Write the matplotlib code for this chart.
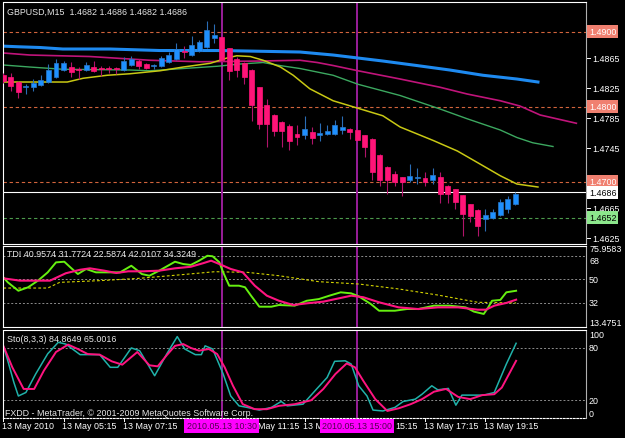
import matplotlib
matplotlib.use('Agg')
import matplotlib.pyplot as plt
from matplotlib import transforms
import numpy as np

plt.rcParams['font.family'] = ['Liberation Sans', 'DejaVu Sans']

# ---------------- data ----------------
symbol_title = "GBPUSD,M15  1.4682 1.4686 1.4682 1.4686"
tdi_title = "TDI 40.9574 31.7724 22.5874 42.0107 34.3249"
sto_title = "Sto(8,3,3) 84.8649 65.0016"
copyright_text = "FXDD - MetaTrader, \u00a9 2001-2009 MetaQuotes Software Corp."

opens = [1.4842, 1.4840, 1.4833, 1.4827, 1.4826, 1.4829, 1.4833, 1.4840, 1.4849, 1.4853,
         1.4850, 1.4849, 1.4853, 1.4852, 1.4852, 1.4851, 1.4849, 1.4856, 1.4861, 1.4857,
         1.4854, 1.4854, 1.4860, 1.4864, 1.4874, 1.4869, 1.4874, 1.4880, 1.4892, 1.4893,
         1.4878, 1.4864, 1.4858, 1.4849, 1.4826, 1.4802, 1.4789, 1.4780, 1.4775, 1.4764,
         1.4762, 1.4767, 1.4762, 1.4764, 1.4764, 1.4769, 1.4771, 1.4769, 1.4762, 1.4757,
         1.4736, 1.4720, 1.4711, 1.4706, 1.4703, 1.4705, 1.4705, 1.4703, 1.4707, 1.4695,
         1.4690, 1.4682, 1.4670, 1.4663, 1.4650, 1.4652, 1.4656, 1.4664, 1.4670]
highs = [1.4845, 1.4845, 1.4834, 1.4830, 1.4837, 1.4842, 1.4857, 1.4864, 1.4861, 1.4860,
         1.4853, 1.4860, 1.4861, 1.4854, 1.4854, 1.4853, 1.4866, 1.4868, 1.4864, 1.4858,
         1.4857, 1.4868, 1.4873, 1.4885, 1.4881, 1.4894, 1.4889, 1.4914, 1.4910, 1.4894,
         1.4879, 1.4866, 1.4860, 1.4850, 1.4827, 1.4810, 1.4790, 1.4781, 1.4777, 1.4776,
         1.4788, 1.4773, 1.4778, 1.4776, 1.4782, 1.4788, 1.4772, 1.4770, 1.4763, 1.4758,
         1.4737, 1.4721, 1.4715, 1.4707, 1.4724, 1.4718, 1.4713, 1.4718, 1.4713, 1.4696,
         1.4691, 1.4683, 1.4671, 1.4664, 1.4664, 1.4664, 1.4677, 1.4681, 1.4686]
lows = [1.4832, 1.4821, 1.4812, 1.4817, 1.4821, 1.4828, 1.4832, 1.4838, 1.4848, 1.4840,
        1.4837, 1.4848, 1.4846, 1.4841, 1.4845, 1.4844, 1.4848, 1.4854, 1.4850, 1.4850,
        1.4850, 1.4853, 1.4858, 1.4862, 1.4865, 1.4868, 1.4873, 1.4878, 1.4885, 1.4860,
        1.4836, 1.4840, 1.4830, 1.4781, 1.4770, 1.4746, 1.4761, 1.4747, 1.4742, 1.4749,
        1.4757, 1.4750, 1.4755, 1.4762, 1.4763, 1.4764, 1.4757, 1.4755, 1.4733, 1.4702,
        1.4695, 1.4684, 1.4695, 1.4681, 1.4700, 1.4697, 1.4695, 1.4697, 1.4672, 1.4672,
        1.4664, 1.4628, 1.4646, 1.4628, 1.4635, 1.4651, 1.4655, 1.4659, 1.4669]
closes = [1.4834, 1.4828, 1.4820, 1.4828, 1.4832, 1.4836, 1.4849, 1.4858, 1.4858, 1.4846,
          1.4849, 1.4856, 1.4848, 1.4850, 1.4850, 1.4850, 1.4861, 1.4864, 1.4854, 1.4852,
          1.4855, 1.4865, 1.4869, 1.4877, 1.4873, 1.4882, 1.4887, 1.4902, 1.4896, 1.4863,
          1.4848, 1.4849, 1.4840, 1.4802, 1.4777, 1.4777, 1.4768, 1.4768, 1.4755, 1.4760,
          1.4770, 1.4758, 1.4765, 1.4768, 1.4776, 1.4773, 1.4767, 1.4756, 1.4747, 1.4713,
          1.4702, 1.4702, 1.4700, 1.4700, 1.4708, 1.4706, 1.4700, 1.4709, 1.4684, 1.4684,
          1.4673, 1.4657, 1.4655, 1.4641, 1.4656, 1.4660, 1.4673, 1.4677, 1.4684]

# moving averages (bar position, price)
ma_blue_x = [-0.4, 2, 4.9, 7.9, 14.2, 20.8, 28.8, 34.1, 39.4, 43.8, 47.1, 50.4, 54.9, 59.3, 63.7, 68.2, 71]
ma_blue_y = [1.4881, 1.4880, 1.4879, 1.4877, 1.4877, 1.4875, 1.4875, 1.4874, 1.4873, 1.4869,
             1.4865, 1.4861, 1.4855, 1.4849, 1.4842, 1.4837, 1.4833]
ma_mag_x = [-0.4, 3.5, 11.5, 19.5, 26.1, 34.1, 39.4, 41.7, 43.8, 47.1, 52.7, 58, 61.6, 66, 68.6, 71.3, 76.1]
ma_mag_y = [1.4872, 1.4869, 1.4867, 1.4862, 1.4860, 1.4861, 1.4862, 1.4859, 1.4855, 1.4848,
            1.4837, 1.4826, 1.4817, 1.4808, 1.4801, 1.4789, 1.4778]
ma_grn_x = [-0.4, 3.5, 7.9, 16.8, 19.5, 23.9, 28.4, 31.4, 34.5, 36.7, 39.4, 43.8, 47.1, 52.7,
            58, 61.6, 66, 68.2, 70.3, 73]
ma_grn_y = [1.4856, 1.4853, 1.4850, 1.4849, 1.4848, 1.4851, 1.4854, 1.4857, 1.4859, 1.4855,
            1.4851, 1.4842, 1.4830, 1.4815, 1.4797, 1.4784, 1.4769, 1.4759, 1.4752, 1.4747]
ma_yel_x = [-0.4, 8.5, 10.6, 13.8, 16.8, 20.8, 23.9, 27.5, 29.7, 31, 32.8, 34.5, 36.8, 38.5,
            40.7, 43.8, 47.1, 50.4, 52.7, 57.1, 60.3, 62.9, 66, 68.2, 71]
ma_yel_y = [1.4833, 1.4833, 1.4838, 1.4842, 1.4844, 1.4848, 1.4853, 1.4858, 1.4865, 1.4868,
            1.4867, 1.4862, 1.4853, 1.4842, 1.4824, 1.4808, 1.4798, 1.4788, 1.4773, 1.4755,
            1.4741, 1.4726, 1.4708, 1.4697, 1.4693]

hlines_price = [1.4900, 1.4800, 1.4700]
bid_price = 1.4686
green_level = 1.4652
price_ticks = [1.4905, 1.4865, 1.4825, 1.4785, 1.4745, 1.4705, 1.4665, 1.4625]
# tick labels hidden behind the line-price boxes
hidden_tick_labels = [1.4905, 1.4705]

# TDI
tdi_grn_x = [0, 0.6, 2, 3.3, 4.6, 5.9, 7, 8.1, 8.9, 9.9, 11, 12.3, 15.5, 17, 18.4, 19.4, 20.7,
             22.8, 23.9, 24.9, 26, 27.1, 27.8, 28.7, 29.2, 30, 31.3, 32.1, 32.9, 34, 35.6, 36.6,
             38.7, 40.3, 41.9, 43.3, 44.8, 46.2, 47.2, 48.8, 49.9, 52, 53.6, 55.1, 57.2, 59.3,
             61.4, 62.5, 63.8, 64.4, 64.9, 66, 66.8, 68.1]
tdi_grn_y = [51.6, 47.7, 41.2, 43.9, 49, 55.4, 63.1, 63.6, 59.3, 54.1, 58, 55.4, 55.4, 60.5,
             54.1, 52.8, 56.7, 63.6, 61.8, 61.1, 64.4, 68.2, 67.8, 63.1, 55.4, 45.1, 45.1, 43.9,
             37.4, 28.9, 28.9, 30.2, 29.7, 33.5, 34.8, 37.4, 40, 39.2, 36.9, 31, 25.8, 25.8,
             27.1, 27.1, 29.7, 29.7, 28.4, 25.1, 23.3, 28.4, 33.5, 34.1, 40, 41.2]
tdi_pnk_x = [0, 2.2, 4.3, 6.2, 8.3, 10.2, 11.5, 13.4, 15, 16.6, 18.6, 20.7, 22.8, 24.9, 26.5,
             27.6, 28.7, 30.2, 31.8, 33.4, 35, 36.6, 38.5, 40.3, 42.5, 44.6, 46.2, 47.8, 49.9,
             52.5, 55.1, 57.7, 60.4, 63, 64.1, 65.2, 66.8, 68.1]
tdi_pnk_y = [50.8, 49, 49, 49, 54.7, 57.4, 58.5, 56.7, 54.9, 56.2, 56.2, 56.7, 58.5, 59.7, 62.4,
             64.4, 61.8, 58, 55.4, 45.1, 37.4, 33.5, 30.2, 31.5, 32.8, 35.4, 37.4, 36.2, 32.3,
             28.4, 27.1, 28.4, 28.4, 26.6, 26.6, 29.7, 31.8, 34.3]
tdi_yel_x = [0, 5.9, 7.5, 12.8, 18.1, 23.3, 28.1, 32.4, 36.6, 41.9, 47.2, 52.5, 57.7, 63, 68.1]
tdi_yel_y = [43.3, 43.3, 47.7, 49, 50.8, 53.4, 55.9, 55.4, 52.8, 48.2, 46.4, 42.6, 37.9, 32.3, 31.8]
tdi_levels = [68, 50, 32]
tdi_range = (13.4751, 75.9583)

# Stochastic
sto_k_x = [0, 0.6, 1.4, 2, 3, 4.3, 5.9, 7.3, 8.3, 10.2, 12.8, 14.2, 15.2, 17, 18.1, 20.1, 21.7,
           23.1, 24.1, 25.5, 26.3, 26.8, 27.8, 29.2, 30.2, 31.3, 32.4, 34, 35.6, 36.9, 37.7,
           39.8, 41.4, 43, 44, 45.4, 46.2, 47.2, 48.3, 49.1, 50.4, 52, 53.1, 54.7, 55.6, 56.9,
           57.7, 59.1, 60.1, 60.9, 62.2, 63.8, 65.2, 66.8, 68.1]
sto_k_y = [82, 65, 40.5, 25, 29, 50, 73, 86, 84, 72, 72, 57.6, 57.6, 79.6, 76.5, 48, 72.7,
           92.5, 78.4, 72, 72, 82, 78.4, 50, 25, 13.8, 12, 9, 12, 18.8, 13.8, 15.7, 31, 46,
           64.4, 65, 61.3, 36.6, 25, 9, 8, 12, 18.8, 21.4, 27, 36.6, 32, 33.6, 14.6, 26, 26,
           26, 29, 61.3, 84.9]
sto_d_x = [0, 1.2, 2.7, 4.1, 5.4, 7, 8.6, 9.9, 11.2, 12.8, 14.4, 15.8, 17.8, 19.4, 20.5, 21.7,
           22.8, 23.9, 24.9, 26, 27.3, 28.4, 29.4, 30.5, 31.8, 33.4, 35, 36.6, 38.7, 40.9,
           42.5, 44.1, 45.6, 46.7, 47.8, 49.4, 51, 52.5, 54.1, 55.6, 57.2, 58.8, 60.4, 62,
           63.6, 65.2, 66.2, 68.1]
sto_d_y = [82, 57.6, 33, 33, 54, 75, 83.4, 78.4, 72.7, 72, 64.4, 60.6, 75, 59.9, 58.7, 71.3,
           82, 84, 79.6, 76.5, 78.4, 72.7, 57.6, 36.6, 15.7, 10, 10, 13.8, 15.7, 20.2, 33, 50,
           62, 57.6, 42.3, 21.4, 8, 11, 15.7, 21.4, 29.9, 33, 24, 21.4, 26, 27, 34.6, 65]
sto_levels = [80, 20]

# time axis: tick bars, and the label parts that stay visible (the
# vertical-line date boxes hide the rest of the 09:15, 11:15, 13:15, 15:15 labels)
time_tick_pos = [0, 8, 16, 24, 32, 40, 48, 56, 64]
time_label_pos = [0, 8, 16, 34.0, 40, 52.2, 56, 64]
time_label_text = ["13 May 2010", "13 May 05:15", "13 May 07:15", "May 11:15",
                   "13 M", "15:15", "13 May 17:15", "13 May 19:15"]
vline_pos = [29, 47]
vline_labels = ["2010.05.13 10:30", "2010.05.13 15:00"]

# ---------------- layout ----------------
W, H = 625, 439
FS = 6.4
fig = plt.figure(figsize=(W / 100, H / 100), dpi=100, facecolor='black')


def rect(x0, y0, x1, y1):
    return [x0 / W, 1 - y1 / H, (x1 - x0) / W, (y1 - y0) / H]


XL = (-0.04, 77.38)
ax_p = fig.add_axes(rect(3, 3, 586, 245))
ax_t = fig.add_axes(rect(3, 246.7, 586, 327.7))
ax_s = fig.add_axes(rect(3, 331, 586, 419))
for ax in (ax_p, ax_t, ax_s):
    ax.set_facecolor('black')
    ax.set_xlim(*XL)
    ax.set_xticks([])
    ax.set_yticks([])
    for sp in ax.spines.values():
        sp.set_color('white')
        sp.set_linewidth(0.8)
    ax.spines['left'].set_linestyle((0, (1, 1)))
    ax.spines['right'].set_color('#B0B0B0')
ax_s.spines['bottom'].set_linestyle((0, (1.5, 1.5)))
ax_s.spines['top'].set_linestyle((0, (1.5, 0.7)))
ax_p.set_ylim(1.46170, 1.49397)
ax_t.set_ylim(*tdi_range)
ax_s.set_ylim(0, 100)

# ---------------- price panel ----------------
o = np.array(opens); h = np.array(highs); l = np.array(lows); c = np.array(closes)
idx = np.arange(len(o))
up = c >= o
dn = ~up
ax_p.vlines(idx[up], l[up], h[up], color='#2A6DB5', lw=0.8, zorder=3)
ax_p.vlines(idx[dn], l[dn], h[dn], color='#B0146A', lw=0.8, zorder=3)
blo = np.minimum(o, c)
bh = np.maximum(np.abs(c - o), 0.00013)
ax_p.bar(idx[up], bh[up], bottom=blo[up], width=0.66, color='#1E90FF',
         edgecolor='#2A78C8', lw=0.5, zorder=4)
ax_p.bar(idx[dn], bh[dn], bottom=blo[dn], width=0.66, color='#FF1478',
         edgecolor='#FF1478', lw=0.5, zorder=4)

ax_p.plot(ma_blue_x, ma_blue_y, color='#1E8AF0', lw=2.2, zorder=2)
ax_p.plot(ma_mag_x, ma_mag_y, color='#C0147A', lw=1.2, zorder=2)
ax_p.plot(ma_grn_x, ma_grn_y, color='#3CA860', lw=1.0, zorder=2)
ax_p.plot(ma_yel_x, ma_yel_y, color='#C8C814', lw=1.1, zorder=2)

for pr in hlines_price:
    ax_p.axhline(pr, color='#D2643C', lw=0.8, ls=(0, (3, 2.5)), zorder=1)
ax_p.axhline(green_level, color='#4C9A4C', lw=0.8, ls=(0, (3, 2.5)), zorder=1)
ax_p.axhline(bid_price, color='white', lw=0.8, zorder=1)

for ax in (ax_p, ax_t, ax_s):
    for vp in vline_pos:
        ax.axvline(vp, color='#9A1E9A', lw=1.4, zorder=1.5)

ax_p.text(7 / W, 1 - 12 / H, symbol_title, transform=fig.transFigure, color='#E8E8E8',
          fontsize=FS, va='center', ha='left')

trp = transforms.blended_transform_factory(fig.transFigure, ax_p.transData)
for pt in price_ticks:
    if pt not in hidden_tick_labels:
        ax_p.text(592 / W, pt, f"{pt:.4f}", transform=trp, color='white', fontsize=FS,
                  va='center', ha='left', clip_on=False)
    ax_p.plot([587 / W, 590 / W], [pt, pt], transform=trp, color='white', lw=0.7,
              clip_on=False)

box_items = [(hlines_price[0], '#F08070', 'white'),
             (hlines_price[1], '#F08070', 'white'),
             (hlines_price[2], '#F08070', 'white'),
             (bid_price, 'white', 'black'),
             (green_level, '#8CE68C', 'black')]
for pr, bg, fgc in box_items:
    ax_p.text(589 / W, pr, f"{pr:.4f}", transform=trp, color=fgc, fontsize=FS,
              va='center', ha='left', clip_on=False, zorder=10,
              bbox=dict(boxstyle='square,pad=0.2', fc=bg, ec='none'))

# ---------------- TDI panel ----------------
for lv in tdi_levels:
    ax_t.axhline(lv, color='#8C8C8C', lw=0.7, ls=(0, (2, 2)))
ax_t.plot(tdi_yel_x, tdi_yel_y, color='#D4D400', lw=0.8, ls=(0, (2.5, 2)))
ax_t.plot(tdi_grn_x, tdi_grn_y, color='#66F010', lw=1.4)
ax_t.plot(tdi_pnk_x, tdi_pnk_y, color='#FF1480', lw=1.5)
ax_t.text(7 / W, 1 - 255 / H, tdi_title, transform=fig.transFigure, color='#E8E8E8',
          fontsize=FS, va='center', ha='left')
trt = transforms.blended_transform_factory(fig.transFigure, ax_t.transData)
ax_t.text(589 / W, 1 - 249.5 / H, f"{tdi_range[1]:.4f}", transform=fig.transFigure,
          color='white', fontsize=FS, va='center', ha='left', clip_on=False)
ax_t.text(589 / W, tdi_range[0], f"{tdi_range[0]:.4f}", transform=trt, color='white',
          fontsize=FS, va='bottom', ha='left', clip_on=False)
for lv in tdi_levels:
    ax_t.text(589 / W, lv, f"{lv}", transform=trt, color='white', fontsize=FS,
              va='top' if lv == tdi_levels[0] else 'center', ha='left', clip_on=False)

# ---------------- Stochastic panel ----------------
for lv in sto_levels:
    ax_s.axhline(lv, color='#8C8C8C', lw=0.7, ls=(0, (2, 2)))
ax_s.plot(sto_k_x, sto_k_y, color='#20B2AA', lw=1.1)
ax_s.plot(sto_d_x, sto_d_y, color='#FF1480', lw=1.4)
ax_s.text(7 / W, 1 - 340 / H, sto_title, transform=fig.transFigure, color='#E8E8E8',
          fontsize=FS, va='center', ha='left')
ax_s.text(5 / W, 1 - 414 / H, copyright_text, transform=fig.transFigure, color='#E8E8E8',
          fontsize=FS, va='center', ha='left')
trs = transforms.blended_transform_factory(fig.transFigure, ax_s.transData)
ax_s.text(589 / W, 100, "100", transform=trs, color='white', fontsize=FS, va='top',
          ha='left', clip_on=False)
ax_s.text(589 / W, 0, "0", transform=trs, color='white', fontsize=FS, va='bottom',
          ha='left', clip_on=False)
for lv in sto_levels:
    ax_s.text(589 / W, lv, f"{lv}", transform=trs, color='white', fontsize=FS,
              va='center', ha='left', clip_on=False)

# ---------------- time axis ----------------
trx = transforms.blended_transform_factory(ax_s.transData, fig.transFigure)
for tp in time_tick_pos:
    ax_s.plot([tp, tp], [1 - 419 / H, 1 - 422 / H], transform=trx, color='white', lw=0.7,
              clip_on=False)
for tp, tl in zip(time_label_pos, time_label_text):
    ax_s.text(tp - 0.15, 1 - 427 / H, tl, transform=trx, color='white', fontsize=FS,
              va='center', ha='left', clip_on=False)
for vp, vl in zip(vline_pos, vline_labels):
    ax_s.text(vp, 1 - 427 / H, vl, transform=trx, color='#500050', fontsize=FS,
              va='center', ha='center', clip_on=False, zorder=10,
              bbox=dict(boxstyle='square,pad=0.25', fc='#FF00FF', ec='none'))

fig.savefig('out.png', dpi=100, facecolor='black')
